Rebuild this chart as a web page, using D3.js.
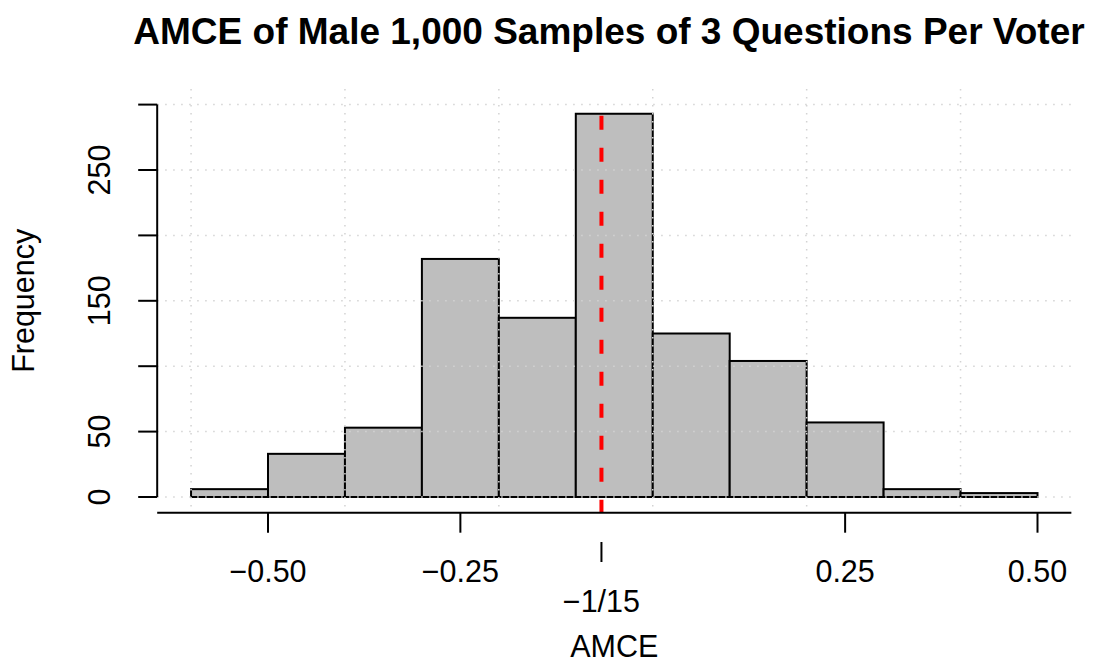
<!DOCTYPE html>
<html>
<head>
<meta charset="utf-8">
<script src="https://cdn.jsdelivr.net/npm/d3@7"></script>
<style>
  body { margin: 0; background: #fff; }
  text { font-family: "Liberation Sans", Arial, Helvetica, sans-serif; fill: #000; }
</style>
</head>
<body>
<div id="chart"></div>
<script>
// Histogram bins (break points) and counts
var breaks = [-0.6, -0.5, -0.4, -0.3, -0.2, -0.1, 0, 0.1, 0.2, 0.3, 0.4, 0.5];
var counts = [6, 33, 53, 182, 137, 293, 125, 104, 57, 6, 3];

// Axis ticks and labels
var xTicks  = [-0.5, -0.25, 0.25, 0.5];
var xLabels = ['\u22120.50', '\u22120.25', '0.25', '0.50'];
var yTicks  = [0, 50, 100, 150, 200, 250, 300];
var yLabels = ['0', '50', '', '150', '', '250', ''];
var xGrid   = [-0.6, -0.4, -0.2, 0, 0.2, 0.4];
var meanValue = -1 / 15;
var meanLabel = '\u22121/15';

var W = 1098, H = 664;
var labelSize = '30.5px';

var svg = d3.select('#chart').append('svg')
  .attr('width', W)
  .attr('height', H);

// Scales (R style usr region, extended 4% each side)
var x = d3.scaleLinear().domain([-0.5, 0.5]).range([268, 1037.5]);
var y = d3.scaleLinear().domain([0, 250]).range([497, 170]);

var plotLeft = x(-0.644), plotRight = x(0.544);
var plotTop = y(312), plotBottom = y(-12);

// Bars
var bins = counts.map(function(c, i) { return {x0: breaks[i], x1: breaks[i + 1], n: c}; });
svg.append('g').selectAll('rect')
  .data(bins)
  .enter().append('rect')
  .attr('x', (d) => x(d.x0))
  .attr('y', (d) => y(d.n))
  .attr('width', (d) => x(d.x1) - x(d.x0))
  .attr('height', (d) => y(0) - y(d.n))
  .style('fill', '#bebebe')
  .style('stroke', '#000')
  .style('stroke-width', 2);

// Dotted grid, drawn on top like grid() after hist()
var grid = svg.append('g')
  .style('stroke', '#d3d3d3')
  .style('stroke-width', 1.5)
  .style('stroke-dasharray', '1.5,6.5');
grid.selectAll('.hgrid')
  .data(yTicks)
  .enter().append('line')
  .attr('x1', plotLeft).attr('x2', plotRight)
  .attr('y1', (d) => y(d)).attr('y2', (d) => y(d));
grid.selectAll('.vgrid')
  .data(xGrid)
  .enter().append('line')
  .attr('x1', (d) => x(d)).attr('x2', (d) => x(d))
  .attr('y1', plotTop).attr('y2', plotBottom);

// Mean line
svg.append('line')
  .attr('x1', x(meanValue)).attr('x2', x(meanValue))
  .attr('y1', y(d3.max(counts)) + 2).attr('y2', plotBottom)
  .style('stroke', '#ff0000')
  .style('stroke-width', 4)
  .style('stroke-dasharray', '14,18');

// Y axis
var yAxis = svg.append('g');
yAxis.append('line')
  .attr('x1', plotLeft).attr('x2', plotLeft)
  .attr('y1', y(0)).attr('y2', y(300))
  .style('stroke', '#000').style('stroke-width', 2);
yAxis.selectAll('.tick')
  .data(yTicks)
  .enter().append('line')
  .attr('x1', plotLeft - 19).attr('x2', plotLeft)
  .attr('y1', (d) => y(d)).attr('y2', (d) => y(d))
  .style('stroke', '#000').style('stroke-width', 2);
yAxis.selectAll('text')
  .data(yTicks)
  .enter().append('text')
  .attr('transform', (d) => `translate(110, ${y(d)}) rotate(-90)`)
  .attr('text-anchor', 'middle')
  .style('font-size', labelSize)
  .text((d, i) => yLabels[i]);

// X axis
var xAxis = svg.append('g');
xAxis.append('line')
  .attr('x1', plotLeft).attr('x2', plotRight)
  .attr('y1', plotBottom).attr('y2', plotBottom)
  .style('stroke', '#000').style('stroke-width', 2);
xAxis.selectAll('.tick')
  .data(xTicks)
  .enter().append('line')
  .attr('x1', (d) => x(d)).attr('x2', (d) => x(d))
  .attr('y1', plotBottom).attr('y2', plotBottom + 20)
  .style('stroke', '#000').style('stroke-width', 2);
xAxis.selectAll('text')
  .data(xTicks)
  .enter().append('text')
  .attr('x', (d) => x(d))
  .attr('y', 582)
  .attr('text-anchor', 'middle')
  .style('font-size', labelSize)
  .text((d, i) => xLabels[i]);

// Separate tick for the mean value
xAxis.append('line')
  .attr('x1', x(meanValue)).attr('x2', x(meanValue))
  .attr('y1', 542).attr('y2', 562)
  .style('stroke', '#000').style('stroke-width', 2);
xAxis.append('text')
  .attr('x', x(meanValue))
  .attr('y', 612)
  .attr('text-anchor', 'middle')
  .style('font-size', labelSize)
  .text(meanLabel);

// Axis titles
svg.append('text')
  .attr('x', (plotLeft + plotRight) / 2)
  .attr('y', 657)
  .attr('text-anchor', 'middle')
  .style('font-size', labelSize)
  .text('AMCE');
svg.append('text')
  .attr('transform', `translate(34, ${(plotTop + plotBottom) / 2}) rotate(-90)`)
  .attr('text-anchor', 'middle')
  .style('font-size', labelSize)
  .text('Frequency');

// Main title
svg.append('text')
  .attr('x', 609)
  .attr('y', 44)
  .attr('text-anchor', 'middle')
  .style('font-size', '37px')
  .style('font-weight', 'bold')
  .text('AMCE of Male 1,000 Samples of 3 Questions Per Voter');
</script>
</body>
</html>
